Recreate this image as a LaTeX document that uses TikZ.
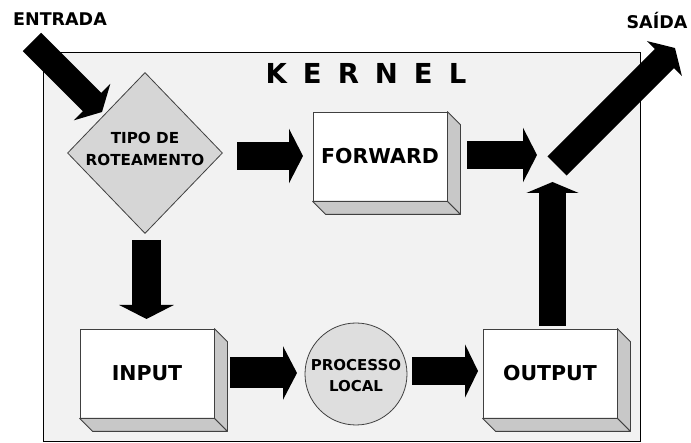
\documentclass[tikz,border=0pt]{standalone}
\usepackage{fontspec}
\setmainfont{DejaVu Sans}
\usetikzlibrary{arrows.meta,shapes.geometric,calc}
\definecolor{kbg}{HTML}{F2F2F2}
\definecolor{sidegray}{HTML}{C8C8C8}
\definecolor{diagray}{HTML}{D6D6D6}
\definecolor{circgray}{HTML}{DEDEDE}
\definecolor{edgegray}{HTML}{404040}
\tikzset{
  front/.style={draw=edgegray, line width=0.8pt, fill=white, minimum width=134pt, minimum height=89pt, inner sep=0pt,
    font=\bfseries\fontsize{20.5}{24}\selectfont},
  side/.style={draw=edgegray, line width=0.8pt, fill=sidegray, line join=round},
  blk/.style={line width=28pt, line cap=butt, draw=black, -{Triangle[length=14pt,width=54pt]}},
  blkd/.style={line width=27pt, line cap=butt, draw=black, -{Triangle[length=15pt,width=50pt]}},
  lbl/.style={font=\bfseries\fontsize{17.5}{20}\selectfont, inner sep=0pt},
  smalltxt/.style={font=\bfseries\fontsize{15}{21}\selectfont, align=center, inner sep=0pt},
}
\newcommand{\boxsides}[1]{%
  \path[side] (#1.north east) -- ++(13,13) -- ($(#1.south east)+(13,13)$) -- (#1.south east) -- cycle;
  \path[side] (#1.south west) -- (#1.south east) -- ++(13,13) -- ($(#1.south west)+(13,13)$) -- cycle;
}
\begin{document}
\begin{tikzpicture}[x=1pt,y=-1pt]
\useasboundingbox (0,0) rectangle (691,443);
% kernel frame
\node[draw=black, line width=1.3pt, fill=kbg, minimum width=597pt, minimum height=389pt, inner sep=0pt, anchor=north west] (kernel) at (43,52) {};
\node[font=\bfseries\fontsize{27.5}{30}\selectfont, inner sep=0pt] (ktitle) at (366,73) {K\hspace{16pt}E\hspace{16pt}R\hspace{16pt}N\hspace{16pt}E\hspace{16pt}L};
% outside labels
\node[lbl] (entrada) at (60,19) {ENTRADA};
\node[lbl] (saida) at (657,21) {SAÍDA};
% diamond
\node[draw=edgegray, line width=0.8pt, fill=diagray, diamond, minimum width=155pt, minimum height=161pt, inner sep=0pt] (dia) at (145,153) {};
\node[smalltxt, font=\bfseries\fontsize{15.2}{22}\selectfont] (diatxt) at (145,149) {TIPO DE\\ROTEAMENTO};
% boxes
\node[front] (fw) at (380,156.5) {FORWARD};
\boxsides{fw}
\node[front] (inp) at (147,373.5) {\raisebox{-2pt}{INPUT}};
\boxsides{inp}
\node[front] (outp) at (550,373.5) {\raisebox{-2pt}{OUTPUT}};
\boxsides{outp}
% process circle
\node[draw=edgegray, line width=0.8pt, fill=circgray, circle, minimum size=102pt, inner sep=0pt] (proc) at (356,374) {};
\node[smalltxt] (proctxt) at (356,376) {PROCESSO\\LOCAL};
% junction and free ends
\coordinate (junc) at (545,168);
\coordinate (entail) at (32,42);
\coordinate (entip) at (102,112);
\coordinate (satail) at (557,166);
\coordinate (satip) at (675,48);
% block arrows
\draw[blk, line width=26pt, -{Triangle[length=14pt,width=51pt]}] (entail) -- (entip);
\draw[blk] (237,156) -- (303,156);
\draw[blk] (467,155) -- (537,155);
\draw[blk, line width=29pt] (146.5,240) -- (146.5,319);
\draw[blk, line width=31pt, -{Triangle[length=14pt,width=53pt]}] (230,373) -- (297,373);
\draw[blk, -{Triangle[length=13pt,width=53pt]}] (412,371) -- (478,371);
\draw[blk, line width=27pt, -{Triangle[length=11pt,width=52pt]}] (552.5,326) -- (552.5,182);
\draw[blk, line width=27pt, -{Triangle[length=15pt,width=49pt]}] (satail) -- (satip);
\end{tikzpicture}
\end{document}
